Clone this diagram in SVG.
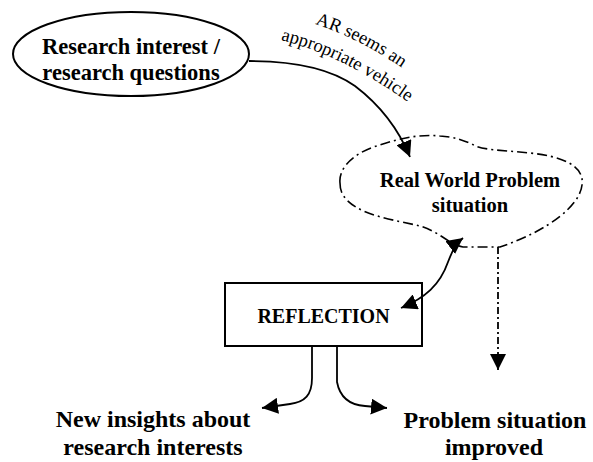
<svg xmlns="http://www.w3.org/2000/svg" width="593" height="462" viewBox="0 0 593 462">
<style>
.t{font-family:"Liberation Serif","Times New Roman",serif;fill:#000}
.b{font-weight:bold}
.ln{fill:none;stroke:#000;stroke-width:1.8}
</style>
<defs>
<marker id="ahb" viewBox="0 0 10 10" refX="10" refY="5" markerWidth="16" markerHeight="16" markerUnits="userSpaceOnUse" orient="auto-start-reverse">
<path d="M0,0 L10,5 L0,10 Z" fill="#000"/>
</marker>
<path id="lab1" d="M308,22 Q357,36 408,72"/>
<path id="lab2" d="M276,39 Q340,53 412,105"/>
</defs>
<rect width="593" height="462" fill="#fff"/>
<g id="connectors">
<path class="ln" d="M249,61 C290,61 330,68 355,86 C380,105 398,128 410,157" marker-end="url(#ahb)"/>
<path class="ln" d="M401,308 C425,298 440,285 448,262 C452,252 455,244 463,238" marker-start="url(#ahb)" marker-end="url(#ahb)"/>
<path class="ln" d="M498,247 L498,370" stroke-dasharray="7,3,2,3" marker-end="url(#ahb)"/>
<path class="ln" d="M312,346 L312,378 C312,395 305,402 290,404 L262,408" marker-end="url(#ahb)"/>
<path class="ln" d="M337,346 L337,382 C340,398 350,405 365,406 L387,408" marker-end="url(#ahb)"/>
<text class="t" font-size="18.5"><textPath href="#lab1" startOffset="50%" text-anchor="middle">AR seems an</textPath></text>
<text class="t" font-size="18.5"><textPath href="#lab2" startOffset="50%" text-anchor="middle">appropriate vehicle</textPath></text>
</g>
<g id="research-interest">
<ellipse cx="131" cy="54" rx="118" ry="42" fill="none" stroke="#000" stroke-width="2"/>
<text class="t b" x="131" y="54" font-size="22.5" text-anchor="middle">Research interest /</text>
<text class="t b" x="131" y="80" font-size="22.5" text-anchor="middle">research questions</text>
</g>
<g id="real-world">
<path d="M340,183 C338,165 360,150 380,145 C400,138 420,134 440,136 C455,137 462,140 472,144 C480,150 500,150 530,153 C560,156 585,165 582,185 C580,205 550,230 500,247 L463,247 C450,245 440,232 420,226 C395,220 355,215 343,195 C340,190 340,186 340,183 Z" fill="none" stroke="#000" stroke-width="1.6" stroke-dasharray="10,4,2,4"/>
<text class="t b" x="470" y="187" font-size="20.5" text-anchor="middle">Real World Problem</text>
<text class="t b" x="470" y="212" font-size="20.5" text-anchor="middle">situation</text>
</g>
<g id="reflection">
<rect x="225" y="283" width="197" height="63" fill="none" stroke="#000" stroke-width="2"/>
<text class="t b" x="323.5" y="323" font-size="20" text-anchor="middle">REFLECTION</text>
</g>
<g id="new-insights">
<text class="t b" x="153" y="427" font-size="24" text-anchor="middle">New insights about</text>
<text class="t b" x="153" y="455" font-size="24" text-anchor="middle">research interests</text>
</g>
<g id="problem-improved">
<text class="t b" x="495" y="428" font-size="24" text-anchor="middle">Problem situation</text>
<text class="t b" x="494" y="455" font-size="24" text-anchor="middle">improved</text>
</g>
</svg>
